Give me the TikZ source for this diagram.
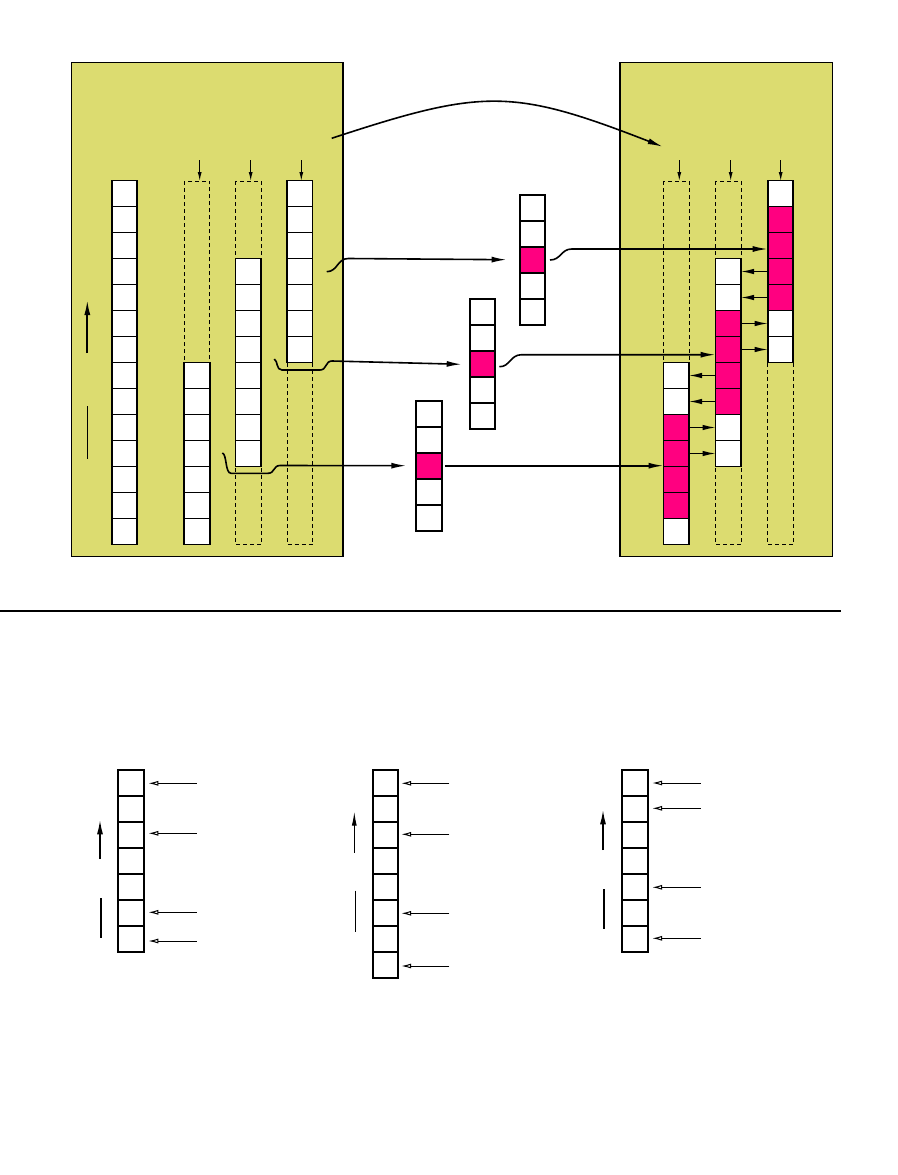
\documentclass[tikz,border=0pt]{standalone}
\usetikzlibrary{arrows.meta,calc}
\definecolor{panel}{RGB}{220,220,112}
\definecolor{cm}{RGB}{255,0,128}
\tikzset{
 cell/.style={draw, line width=1.9pt, minimum width=25.5pt, minimum height=26pt, inner sep=0pt, outer sep=0pt, anchor=north west},
 panelbox/.style={draw, line width=1.5pt, fill=panel, inner sep=0pt, outer sep=0pt, anchor=north west},
 dcol/.style={draw, line width=0.8pt, dash pattern=on 4pt off 3pt},
 conn/.style={line width=1.6pt, -{Latex[length=15pt,width=6pt]}},
 link/.style={line width=1.2pt, -{Latex[length=13pt,width=5.5pt]}},
 drop/.style={line width=1pt, -{Latex[length=9pt,width=4pt]}},
 openarr/.style={line width=1pt, -{Latex[open,length=10pt,width=5pt]}},
 bigup/.style={line width=1.8pt, -{Latex[length=15pt,width=6pt]}},
 thinup/.style={line width=1pt, -{Latex[length=14pt,width=5pt]}},
 bar/.style={line width=1.8pt},
 thinbar/.style={line width=1pt},
}
\newcommand\cellcol[5]{\foreach \c [count=\i from #4] in {#5} {\node[cell, fill=\c] (#1-\i) at (#2,{#3+26*\i}) {};}}
\begin{document}
\begin{tikzpicture}[x=1pt,y=-1pt]
\useasboundingbox (0,0) rectangle (897,1175);
% panels
\node[panelbox, minimum width=271.5pt, minimum height=494pt] (L) at (71.5,62.5) {};
\node[panelbox, minimum width=212.5pt, minimum height=494pt] (R) at (620,62.5) {};
% dashed column outlines
\draw[dcol] (184.3,181) rectangle (209.7,544.5);
\draw[dcol] (235.5,181) rectangle (261,544.5);
\draw[dcol] (287,181) rectangle (312.5,544.5);
\draw[dcol] (663.5,181) rectangle (689,544.5);
\draw[dcol] (715.5,181) rectangle (741,544.5);
\draw[dcol] (767.7,181) rectangle (793.2,544.5);
% left panel columns
\cellcol{A}{111.7}{180.5}{0}{white,white,white,white,white,white,white,white,white,white,white,white,white,white}
\cellcol{B}{184.3}{180.5}{7}{white,white,white,white,white,white,white}
\cellcol{C}{235.5}{180.5}{3}{white,white,white,white,white,white,white,white}
\cellcol{D}{287}{180.5}{0}{white,white,white,white,white,white,white}
% right panel columns
\cellcol{E}{663.5}{180.5}{7}{white,white,cm,cm,cm,cm,white}
\cellcol{F}{715.5}{180.5}{3}{white,white,cm,cm,cm,cm,white,white}
\cellcol{G}{767.7}{180.5}{0}{white,cm,cm,cm,cm,white,white}
% middle columns
\cellcol{M1}{519.7}{194.7}{0}{white,white,cm,white,white}
\cellcol{M2}{469.7}{299.3}{0}{white,white,cm,white,white}
\cellcol{M3}{416.3}{400.7}{0}{white,white,cm,white,white}
% bottom columns
\cellcol{X}{118.3}{769.7}{0}{white,white,white,white,white,white,white}
\cellcol{Y}{372.7}{769.7}{0}{white,white,white,white,white,white,white,white}
\cellcol{Z}{622.3}{769.7}{0}{white,white,white,white,white,white,white}
% drop arrows
\foreach \n/\x in {B/199.7,C/250.7,D/301.3,E/679.3,F/730.7,G/780.7}{
  \coordinate (d\n) at (\x,160);
  \draw[drop] (d\n) -- (\x,181);
}
% left panel markers
\coordinate (lu1) at (87.3,353); \coordinate (lu2) at (87.3,300);
\draw[bigup] (lu1) -- (lu2);
\coordinate (lb1) at (87.5,406); \coordinate (lb2) at (87.5,458.7);
\draw[bar] (lb1) -- (lb2);
% coordinates for connectors
\coordinate (s1) at (326.7,271.7);
\coordinate (k1) at (348.3,258.5);
\coordinate (s2) at (550,260);
\coordinate (k2) at (571.7,249);
\coordinate (s3) at (274.3,359);
\coordinate (s4) at (499.3,366.7);
\coordinate (k4) at (521.7,354.7);
\coordinate (s5) at (222.3,453);
\coordinate (s7) at (331.7,138.3);
\coordinate (t7) at (662.7,146.7);
% connectors
\draw[conn] (s1) .. controls (338,271.5) and (337,258.5) .. (k1) -- ([xshift=-13pt]M1-2.west);
\draw[conn] (s2) .. controls (561,260) and (561,249) .. (k2) -- (k2 -| G-2.west);
\draw[conn] (s3) .. controls (278,361) and (276,370) .. (282,370) -- (320,370) .. controls (327,370) and (325,361) .. (332,361) -- ([xshift=-8pt]M2-2.west);
\draw[conn] (s4) .. controls (510,367) and (510,354.7) .. (k4) -- (k4 -| F-6.west);
\draw[conn] (s5) .. controls (227,454) and (225,473.3) .. (231,473.3) -- (268,473.3) .. controls (275,473.3) and (273,465.5) .. (280,465.5) -- ([xshift=-10pt]M3-2.west);
\draw[conn] ([xshift=3pt]M3-2.east) -- (M3-2.east -| E-10.west);
\draw[conn] (s7) .. controls (483,88.5) and (512,88) .. (t7);
% links between right-panel columns
\draw[link] (G-3.west) -- (F-3.east);
\draw[link] (G-4.west) -- (F-4.east);
\draw[link] (F-5.east) -- (G-5.west);
\draw[link] (F-6.east) -- (G-6.west);
\draw[link] (F-7.west) -- (E-7.east);
\draw[link] (F-8.west) -- (E-8.east);
\draw[link] (E-9.east) -- (F-9.west);
\draw[link] (E-10.east) -- (F-10.west);
% separator
\coordinate (h1) at (0,611); \coordinate (h2) at (841,611);
\draw[line width=2pt] (h1) -- (h2);
% bottom markers
\coordinate (xu1) at (100,859); \coordinate (xu2) at (100,819.3);
\draw[bigup] (xu1) -- (xu2);
\coordinate (xb1) at (101,898.3); \coordinate (xb2) at (101,938.3);
\draw[bar] (xb1) -- (xb2);
\coordinate (yu1) at (354.3,852.7); \coordinate (yu2) at (354.3,811.7);
\draw[thinup] (yu1) -- (yu2);
\coordinate (yb1) at (355.3,890.7); \coordinate (yb2) at (355.3,931.7);
\draw[thinbar] (yb1) -- (yb2);
\coordinate (zu1) at (603,850); \coordinate (zu2) at (603,809.3);
\draw[bigup] (zu1) -- (zu2);
\coordinate (zb1) at (603.7,889); \coordinate (zb2) at (603.7,929);
\draw[bar] (zb1) -- (zb2);
% open arrows
\foreach \y [count=\k] in {783.3,833.3,912.3,941}{
  \coordinate (xa\k) at (196.5,\y);
  \draw[openarr, shorten >=4.5pt] (xa\k) -- (xa\k -| X-0.east);
}
\foreach \y [count=\k] in {783.3,834.3,913.3,966}{
  \coordinate (ya\k) at (449.3,\y);
  \draw[openarr, shorten >=3pt] (ya\k) -- (ya\k -| Y-0.east);
}
\foreach \y [count=\k] in {783,808.3,887.3,938.3}{
  \coordinate (za\k) at (700.7,\y);
  \draw[openarr, shorten >=4.3pt] (za\k) -- (za\k -| Z-0.east);
}
\end{tikzpicture}
\end{document}
